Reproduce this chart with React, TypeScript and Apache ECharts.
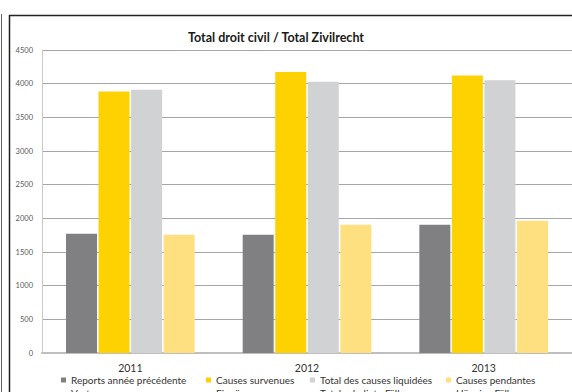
import React, { useEffect, useRef } from "react";
import * as echarts from "echarts";

const years = ["2011", "2012", "2013"];
const reports = [1770, 1755, 1905];
const survenues = [3885, 4175, 4120];
const liquidees = [3910, 4030, 4050];
const pendantes = [1758, 1905, 1963];

const namesFr = [
  "Reports année précédente",
  "Causes survenues",
  "Total des causes liquidées",
  "Causes pendantes",
];
const namesDe = ["Vortrag", "Eingänge", "Total erledigte Fälle", "Hängige Fälle"];
const colors = ["#808083", "#FED100", "#D1D2D4", "#FEE080"];
const legendLeft = [61, 206, 310, 446];

const FONT = "Lato, sans-serif";

export default function App() {
  const ref = useRef<HTMLDivElement>(null);
  useEffect(() => {
    document.body.style.margin = "0";
    const chart = echarts.init(ref.current!, null, { renderer: "svg" });
    const values = [reports, survenues, liquidees, pendantes];
    chart.setOption({
      animation: false,
      backgroundColor: "#ffffff",
      textStyle: { fontFamily: FONT },
      title: {
        text: "Total droit civil / Total Zivilrecht",
        left: 271,
        top: 26,
        textAlign: "center",
        textStyle: { fontSize: 12.5, fontWeight: "bold", color: "#1a1a1a", fontFamily: FONT },
      },
      legend: namesFr.map((n, i) => ({
        data: [n],
        left: legendLeft[i],
        top: 375,
        padding: 0,
        itemWidth: 5,
        itemHeight: 5,
        icon: "rect",
        textStyle: { fontSize: 10, color: "#333", fontFamily: FONT },
      })),
      grid: { left: 42, right: -3, top: 50, bottom: 39 },
      xAxis: {
        type: "category",
        data: years,
        axisTick: { show: false },
        axisLine: { lineStyle: { color: "#BFBFBF", width: 2 } },
        axisLabel: { color: "#333", fontSize: 10.5, margin: 9, fontFamily: FONT },
      },
      yAxis: {
        type: "value",
        min: 0,
        max: 4500,
        interval: 500,
        axisLine: { show: true, lineStyle: { color: "#CACACA", width: 1 } },
        axisTick: { show: false },
        splitLine: { lineStyle: { color: "#A6A6A6", width: 1 } },
        axisLabel: {
          color: "#595959",
          fontSize: 7.5,
          margin: 9,
          fontFamily: FONT,
          formatter: (v: number) => String(v),
        },
      },
      graphic: [
        {
          type: "rect",
          shape: { x: 9.5, y: 15.5, width: 700, height: 500 },
          style: { fill: "none", stroke: "#222", lineWidth: 1.5 },
          silent: true,
        },
        {
          type: "line",
          shape: { x1: 1.5, y1: 14, x2: 1.5, y2: 392 },
          style: { stroke: "#666", lineWidth: 1 },
          silent: true,
        },
        ...namesDe.map((t, i) => ({
          type: "text",
          left: legendLeft[i] + 10,
          top: 388,
          style: { text: t, fontSize: 10, fill: "#333", fontFamily: FONT },
          silent: true,
        })),
      ],
      series: namesFr.map((n, i) => ({
        name: n,
        type: "bar",
        data: values[i],
        barWidth: 31,
        barGap: "5%",
        itemStyle: { color: colors[i] },
      })),
    });
    return () => chart.dispose();
  }, []);
  return (
    <div
      ref={ref}
      style={{ position: "fixed", left: 0, top: 0, width: 572, height: 392 }}
    />
  );
}
